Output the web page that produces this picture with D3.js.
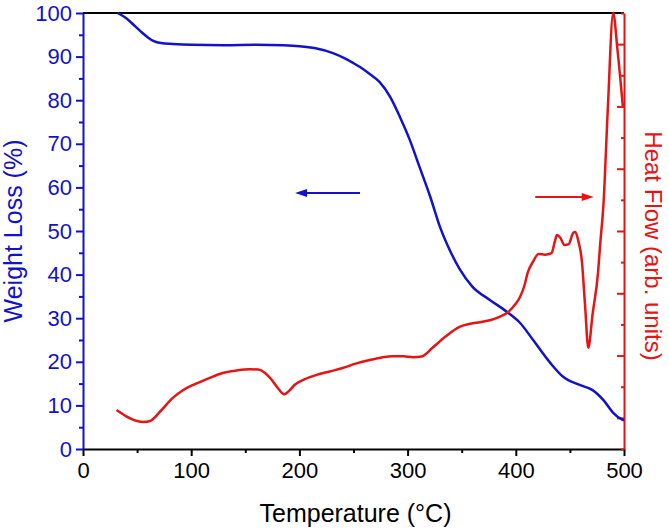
<!DOCTYPE html>
<html>
<head>
<meta charset="utf-8">
<script src="https://cdn.jsdelivr.net/npm/d3@7"></script>
<style>
  body { margin: 0; background: #fff; }
  svg { display: block; font-family: "Liberation Sans", Arial, sans-serif; }
</style>
</head>
<body>
<svg id="chart" width="669" height="529"></svg>
<script>
// weight loss (TGA) curve, % vs temperature
var tgaTemp = [32, 40, 48, 55, 60, 65, 72, 83, 100, 130, 160, 185, 200, 215, 231, 242, 250, 256, 265, 274, 284, 293, 302, 311, 321, 330, 339, 348, 360, 376, 392, 404, 416, 432, 444, 459, 471, 481, 490, 498, 500];
var tgaWeight = [100, 98.8, 97.0, 95.4, 94.4, 93.6, 93.1, 92.9, 92.7, 92.6, 92.7, 92.6, 92.4, 91.9, 90.8, 89.6, 88.5, 87.6, 86.0, 84.2, 80.7, 76.1, 70.9, 64.7, 57.8, 50.9, 45.6, 41.3, 37.2, 34.2, 31.4, 28.9, 25.0, 19.7, 16.5, 14.7, 13.5, 11.2, 8.3, 6.8, 6.6];

// heat flow (DSC) curve, arbitrary units
var dscTemp = [31, 40, 50, 56, 62, 71, 83, 92, 102, 115, 129, 142, 154, 162, 168, 174, 180, 186, 190, 196, 205, 216, 228, 240, 252, 265, 276, 286, 296, 305, 313, 323, 335, 348, 358, 367, 377, 385, 393, 399, 404, 408, 411, 416, 421, 427, 433, 436, 438, 441, 445, 449, 453, 455, 458, 461, 464, 467, 471, 476, 478, 481, 485, 490, 494, 499];
var dscHeat = [1.25, 1.05, 0.90, 0.87, 0.90, 1.19, 1.64, 1.88, 2.06, 2.25, 2.44, 2.52, 2.56, 2.55, 2.45, 2.24, 1.96, 1.76, 1.85, 2.07, 2.24, 2.38, 2.49, 2.60, 2.74, 2.86, 2.94, 2.98, 2.98, 2.95, 2.97, 3.25, 3.61, 3.92, 4.02, 4.07, 4.14, 4.24, 4.40, 4.62, 4.89, 5.25, 5.66, 6.02, 6.26, 6.24, 6.29, 6.65, 6.87, 6.79, 6.55, 6.58, 6.94, 6.97, 6.65, 6.06, 4.62, 3.25, 4.34, 5.66, 6.58, 7.84, 10.89, 14.0, 12.81, 10.98];

// direction arrows: [from temp, to temp, weight-axis level]
var tgaArrow = [256, 196, 58.7];
var dscArrow = [418, 472, 57.8];

var xTicks = [0, 100, 200, 300, 400, 500];
var yTicks = [0, 10, 20, 30, 40, 50, 60, 70, 80, 90, 100];

var blue = '#1212cc', red = '#e61414';
var margin = { top: 13, right: 45, bottom: 80, left: 83 },
    width = 624 - margin.left,
    height = 449 - margin.top;

var svg = d3.select('#chart');
var g = svg.append('g').attr('transform', 'translate(' + margin.left + ',' + margin.top + ')');

var x = d3.scaleLinear().domain([0, 500]).range([0, width]);
var y = d3.scaleLinear().domain([0, 100]).range([height, 0]);
var yHeat = d3.scaleLinear().domain([0, 14]).range([height, 0]);

// minor ticks first
g.append('g').attr('transform', 'translate(0,' + height + ')')
    .call(d3.axisBottom(x).tickValues(d3.range(50, 500, 100)).tickSize(4).tickFormat(''))
    .call(a => a.select('.domain').remove())
    .call(a => a.selectAll('line').attr('stroke', '#000').attr('stroke-width', 2));
g.append('g')
    .call(d3.axisLeft(y).tickValues(d3.range(5, 100, 10)).tickSize(4).tickFormat(''))
    .call(a => a.select('.domain').remove())
    .call(a => a.selectAll('line').attr('stroke', blue).attr('stroke-width', 2));

// main axes
var xAxis = g.append('g').attr('transform', 'translate(0,' + height + ')')
    .call(d3.axisBottom(x).tickValues(xTicks).tickSize(7).tickSizeOuter(0).tickPadding(6));
xAxis.select('.domain').attr('stroke', '#000').attr('stroke-width', 2);
xAxis.selectAll('line').attr('stroke', '#000').attr('stroke-width', 2);
xAxis.selectAll('text').attr('font-size', 22).attr('fill', '#000').attr('font-family', '"Liberation Sans", Arial, sans-serif');

var yAxis = g.append('g')
    .call(d3.axisLeft(y).tickValues(yTicks).tickSize(7).tickSizeOuter(0).tickPadding(4));
yAxis.select('.domain').attr('stroke', blue).attr('stroke-width', 2);
yAxis.selectAll('line').attr('stroke', blue).attr('stroke-width', 2);
yAxis.selectAll('text').attr('font-size', 22).attr('fill', blue).attr('font-family', '"Liberation Sans", Arial, sans-serif');

// top frame line
g.append('line').attr('x1', 0).attr('x2', width).attr('y1', 0).attr('y2', 0)
    .attr('stroke', '#000').attr('stroke-width', 2);

// right heat-flow axis, inward ticks (odd values longer), no labels
var rAxis = g.append('g').attr('transform', 'translate(' + width + ',0)')
    .call(d3.axisLeft(yHeat).tickValues(d3.range(0, 15)).tickSizeOuter(0).tickFormat(''));
rAxis.selectAll('.tick line').attr('x2', d => d % 2 === 1 ? -7 : -3).attr('stroke', red).attr('stroke-width', 2);
rAxis.select('.domain').attr('stroke', red).attr('stroke-width', 2);

// curves
var tgaLine = d3.line().x(d => x(d[0])).y(d => y(d[1])).curve(d3.curveMonotoneX);
var dscLine = d3.line().x(d => x(d[0])).y(d => yHeat(d[1])).curve(d3.curveMonotoneX);

g.append('path').datum(d3.zip(tgaTemp, tgaWeight))
    .attr('d', tgaLine).attr('fill', 'none').attr('stroke', blue).attr('stroke-width', 2.5);
g.append('path').datum(d3.zip(dscTemp, dscHeat))
    .attr('d', dscLine).attr('fill', 'none').attr('stroke', red).attr('stroke-width', 2.5);

// arrows
function arrow(a, color) {
    var x1 = x(a[0]), x2 = x(a[1]), yy = y(a[2]);
    var dir = x2 > x1 ? 1 : -1;
    g.append('line').attr('x1', x1).attr('x2', x2 - dir * 8).attr('y1', yy).attr('y2', yy)
        .attr('stroke', color).attr('stroke-width', 2);
    g.append('path')
        .attr('d', 'M' + x2 + ',' + yy + 'L' + (x2 - dir * 12) + ',' + (yy - 4) + 'L' + (x2 - dir * 12) + ',' + (yy + 4) + 'Z')
        .attr('fill', color);
}
arrow(tgaArrow, blue);
arrow(dscArrow, red);

// titles
svg.append('text').attr('x', margin.left + width / 2 + 2).attr('y', 522)
    .attr('text-anchor', 'middle').attr('font-size', 25).attr('fill', '#000')
    .text('Temperature (°C)');
svg.append('text').attr('transform', 'translate(22,' + (margin.top + height / 2) + ') rotate(-90)')
    .attr('text-anchor', 'middle').attr('font-size', 25).attr('fill', blue)
    .text('Weight Loss (%)');
svg.append('text').attr('transform', 'translate(645,' + (margin.top + height / 2 + 15) + ') rotate(90)')
    .attr('text-anchor', 'middle').attr('font-size', 24).attr('fill', red)
    .text('Heat Flow (arb. units)');
</script>
</body>
</html>
